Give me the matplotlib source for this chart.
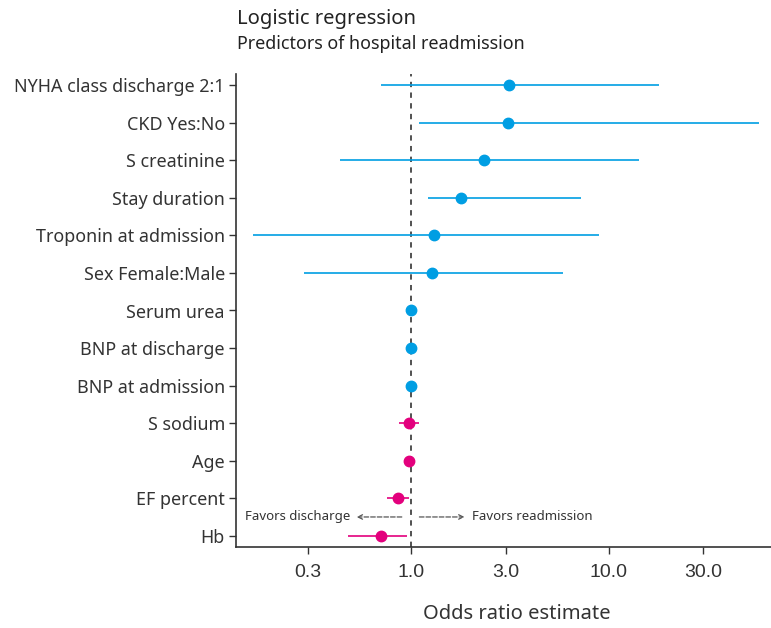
import matplotlib
matplotlib.use("Agg")
import matplotlib.pyplot as plt
import numpy as np

# Data (top to bottom)
labels = ["NYHA class discharge 2:1", "CKD Yes:No", "S creatinine", "Stay duration",
          "Troponin at admission", "Sex Female:Male", "Serum urea", "BNP at discharge",
          "BNP at admission", "S sodium", "Age", "EF percent", "Hb"]
odds = [3.13, 3.07, 2.33, 1.79, 1.30, 1.28, 1.00, 0.995, 0.995, 0.97, 0.97, 0.86, 0.70]
ci_low = [0.70, 1.10, 0.437, 1.21, 0.159, 0.288, 0.995, 0.99, 0.99, 0.865, 0.955, 0.752, 0.478]
ci_high = [18.0, 57.3, 14.2, 7.26, 8.95, 5.84, 1.005, 1.0, 1.0, 1.09, 0.985, 0.98, 0.957]
direction = ["up"] * 9 + ["down"] * 4

xticks = [0.3, 1.0, 3.0, 10.0, 30.0]

colors = {"up": "#009ee3", "down": "#e3007d"}

plt.rcParams['font.family'] = ['Noto Sans', 'DejaVu Sans']

fig = plt.figure(figsize=(7.71, 6.28), dpi=100)
ax = fig.add_axes([236 / 771, 1 - 547 / 628, (771 - 236) / 771, (547 - 74) / 628])

n = len(labels)
ypos = np.arange(n)[::-1]
for y, o, lo, hi, d in zip(ypos, odds, ci_low, ci_high, direction):
    c = colors[d]
    ax.plot([lo, hi], [y, y], color=c, lw=1.2, solid_capstyle='butt', zorder=2)
    ax.plot(o, y, 'o', color=c, ms=7.5, zorder=3)

ax.axvline(1.0, color='#222222', lw=1.1, ls=(0, (3.5, 3.5)), zorder=1)

ax.set_xscale('log')
ax.set_xlim(0.13, 66)
ax.set_ylim(-0.3, n - 1 + 0.3)
ax.set_xticks(xticks)
ax.set_xticklabels([f"{t:.1f}" for t in xticks], fontsize=14, color='#333333',
                   family=['Liberation Sans'])
ax.minorticks_off()
ax.set_yticks(ypos)
ax.set_yticklabels(labels, fontsize=12.9, color='#333333')
ax.tick_params(axis='y', length=5, width=1, pad=3, color='#333333')
ax.tick_params(axis='x', length=5, width=1, pad=7, color='#333333')
for s in ['top', 'right']:
    ax.spines[s].set_visible(False)
for s in ['left', 'bottom']:
    ax.spines[s].set_color('#333333')
    ax.spines[s].set_linewidth(1.2)

ax.set_xlabel("Odds ratio estimate", fontsize=14.5, color='#333333', va='center')
ax.xaxis.set_label_coords(0.525, -0.142)

# Favors annotations
ya = 0.5
ax.annotate("", xy=(0.53, ya), xytext=(0.896, ya),
            arrowprops=dict(arrowstyle='->', ls='--', color='#555555', lw=0.9,
                            mutation_scale=8, shrinkA=0, shrinkB=0))
ax.annotate("", xy=(1.86, ya), xytext=(1.10, ya),
            arrowprops=dict(arrowstyle='->', ls='--', color='#555555', lw=0.9,
                            mutation_scale=8, shrinkA=0, shrinkB=0))
ax.text(0.489, ya, "Favors discharge", ha='right', va='center', fontsize=9.5, color='#333333')
ax.text(2.02, ya, "Favors readmission", ha='left', va='center', fontsize=9.5, color='#333333')

fig.text(237 / 771, 1 - 19 / 628, "Logistic regression", fontsize=14.5, color='#222222',
         ha='left', va='center')
fig.text(237 / 771, 1 - 44 / 628, "Predictors of hospital readmission", fontsize=12.9,
         color='#222222', ha='left', va='center')

fig.savefig("out.png", dpi=100)
